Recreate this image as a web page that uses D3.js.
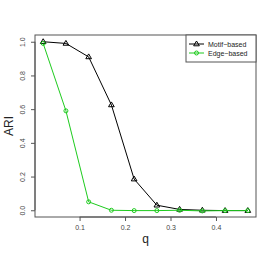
<!DOCTYPE html>
<html>
<head>
<meta charset="utf-8">
<script src="https://cdn.jsdelivr.net/npm/d3@7"></script>
<style>
  body { margin: 0; background: #fff; }
  text { font-family: "Liberation Sans", Arial, sans-serif; }
</style>
</head>
<body>
<div id="chart"></div>
<script>
// q values on the x axis
const qValues = [0.02, 0.07, 0.12, 0.17, 0.22, 0.27, 0.32, 0.37, 0.42, 0.47];
// ARI per method
const motifAri = [1.0, 0.99, 0.91, 0.625, 0.185, 0.03, 0.005, 0.0, -0.002, -0.002];
const edgeAri = [0.99, 0.59, 0.05, 0.0, -0.002, -0.002, 0.0, -0.004, -0.002, -0.002];
const xTicks = [0.1, 0.2, 0.3, 0.4];
const yTicks = [0.0, 0.2, 0.4, 0.6, 0.8, 1.0];
const seriesNames = ['Motif\u2212based', 'Edge\u2212based'];

const width = 273, height = 262;
const box = { left: 35, right: 256, top: 35, bottom: 217 };
const green = '#1ecb1e';
const axisGray = '#555';

const svg = d3.select('#chart').append('svg')
    .attr('width', width)
    .attr('height', height);

// R-style 4% padding on both scales
const xPad = (0.47 - 0.02) * 0.04;
const x = d3.scaleLinear()
    .domain([0.02 - xPad, 0.47 + xPad])
    .range([box.left, box.right]);
const y = d3.scaleLinear()
    .domain([-0.04, 1.04])
    .range([box.bottom, box.top]);

// plot frame
svg.append('rect')
    .attr('x', box.left).attr('y', box.top)
    .attr('width', box.right - box.left)
    .attr('height', box.bottom - box.top)
    .attr('fill', 'none')
    .attr('stroke', axisGray)
    .attr('stroke-width', 1);

// x axis
const xAxis = svg.append('g')
    .attr('transform', `translate(0,${box.bottom})`)
    .call(d3.axisBottom(x).tickValues(xTicks).tickSize(4).tickPadding(4)
        .tickFormat(d3.format('.1f')));
xAxis.select('.domain').attr('d', `M${x(0.1)},0H${x(0.4)}`).attr('stroke', axisGray);
xAxis.selectAll('line').attr('stroke', axisGray);
xAxis.selectAll('text').attr('font-size', 7).attr('fill', '#444')
    .style('font-family', '"Liberation Sans", Arial, sans-serif');

// y axis
const yAxis = svg.append('g')
    .attr('transform', `translate(${box.left},0)`)
    .call(d3.axisLeft(y).tickValues(yTicks).tickSize(4).tickPadding(3)
        .tickFormat(d3.format('.1f')));
yAxis.select('.domain').attr('d', `M0,${y(0)}V${y(1)}`).attr('stroke', axisGray);
yAxis.selectAll('line').attr('stroke', axisGray);
yAxis.selectAll('text')
    .attr('font-size', 7).attr('fill', '#444')
    .attr('text-anchor', 'middle')
    .attr('x', 0).attr('dy', 0)
    .attr('transform', 'translate(-10,0) rotate(-90)')
    .style('font-family', '"Liberation Sans", Arial, sans-serif');

// axis titles
svg.append('text')
    .attr('x', (box.left + box.right) / 2)
    .attr('y', 243)
    .attr('text-anchor', 'middle')
    .attr('font-size', 12)
    .attr('fill', '#222')
    .text('q');
svg.append('text')
    .attr('transform', `translate(13,${(box.top + box.bottom) / 2}) rotate(-90)`)
    .attr('text-anchor', 'middle')
    .attr('font-size', 12)
    .attr('fill', '#222')
    .text('ARI');

const line = d3.line()
    .x((d, i) => x(qValues[i]))
    .y(d => y(d));

function triangle(g, cx, cy, color) {
    const s = 3;
    g.append('path')
        .attr('d', `M${cx},${cy - s}L${cx + s * 0.95},${cy + s * 0.6}L${cx - s * 0.95},${cy + s * 0.6}Z`)
        .attr('fill', 'none')
        .attr('stroke', color)
        .attr('stroke-width', 1);
}
function circle(g, cx, cy, color) {
    g.append('circle')
        .attr('cx', cx).attr('cy', cy).attr('r', 2)
        .attr('fill', 'none')
        .attr('stroke', color)
        .attr('stroke-width', 1);
}

// Motif-based series
svg.append('path')
    .datum(motifAri)
    .attr('d', line)
    .attr('fill', 'none')
    .attr('stroke', '#000')
    .attr('stroke-width', 1);
const motifPts = svg.append('g');
motifAri.forEach((v, i) => triangle(motifPts, x(qValues[i]), y(v), '#000'));

// Edge-based series
svg.append('path')
    .datum(edgeAri)
    .attr('d', line)
    .attr('fill', 'none')
    .attr('stroke', green)
    .attr('stroke-width', 1);
const edgePts = svg.append('g');
edgeAri.forEach((v, i) => circle(edgePts, x(qValues[i]), y(v), green));

// legend
const lg = svg.append('g');
lg.append('rect')
    .attr('x', 186).attr('y', box.top)
    .attr('width', box.right - 186).attr('height', 27)
    .attr('fill', '#fff')
    .attr('stroke', axisGray);
seriesNames.forEach((name, i) => {
    const ly = box.top + 9 + i * 9;
    const color = i === 0 ? '#000' : green;
    lg.append('line')
        .attr('x1', 189).attr('x2', 204)
        .attr('y1', ly).attr('y2', ly)
        .attr('stroke', color);
    if (i === 0) triangle(lg, 196.5, ly, color);
    else circle(lg, 196.5, ly, color);
    lg.append('text')
        .attr('x', 208).attr('y', ly + 2.5)
        .attr('font-size', 7)
        .attr('fill', '#222')
        .text(name);
});
</script>
</body>
</html>
